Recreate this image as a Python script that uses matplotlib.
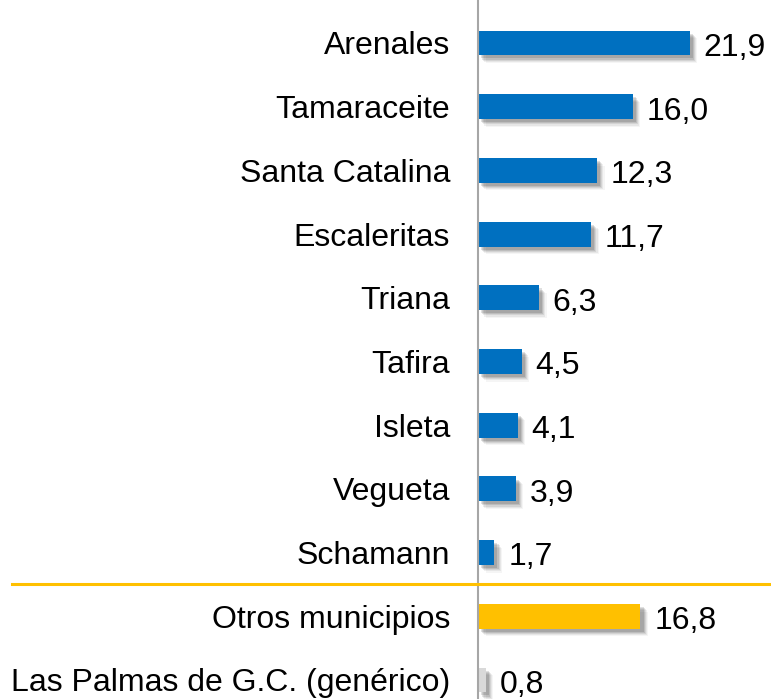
import matplotlib
matplotlib.use("Agg")
import matplotlib.pyplot as plt
import matplotlib.patheffects as pe
import matplotlib.transforms as mtransforms

categories = ["Arenales", "Tamaraceite", "Santa Catalina", "Escaleritas", "Triana",
              "Tafira", "Isleta", "Vegueta", "Schamann", "Otros municipios",
              "Las Palmas de G.C. (genérico)"]
values = [21.9, 16.0, 12.3, 11.7, 6.3, 4.5, 4.1, 3.9, 1.7, 16.8, 0.8]
colors = ["#0070C0"] * 9 + ["#FFC000", "#D9D9D9"]

plt.rcParams['font.family'] = ['Liberation Sans', 'DejaVu Sans']

fig = plt.figure(figsize=(7.71, 6.99), dpi=100)
ax = fig.add_axes([478 / 771, 0, 1 - 478 / 771, 1])

pos = list(range(len(categories)))

# soft shadow made of a few offset layers
shadow = [pe.SimplePatchShadow(offset=(o, -o), shadow_rgbFace='black', alpha=a)
          for o, a in [(5.5, 0.04), (4.6, 0.06), (3.8, 0.08), (3.0, 0.1), (2.2, 0.12)]] + [pe.Normal()]

bars = ax.barh(pos, values, height=0.39, color=colors, zorder=3)
for b in bars:
    b.set_path_effects(shadow)

for p, v in zip(pos, values):
    ax.annotate(f"{v:.1f}".replace(".", ","), xy=(v, p), xytext=(10, -1),
                textcoords="offset points", va="center_baseline", ha="left",
                fontsize=23, color="black")

ax.set_xlim(0, 30.3)
ax.set_ylim((699 - 43) / 63.7, -43 / 63.7)
ax.set_yticks(pos)
ax.set_yticklabels(categories, fontsize=23)
ax.tick_params(axis="y", length=0, pad=20)
ax.set_xticks([])
for s in ["top", "right", "bottom"]:
    ax.spines[s].set_visible(False)
ax.spines["left"].set_color("#A6A6A6")
ax.spines["left"].set_linewidth(1.5)
ax.spines["left"].set_zorder(4)

# separator between neighbourhoods and other groups
tr = mtransforms.blended_transform_factory(fig.transFigure, ax.transData)
ax.plot([12 / 771, 1.0], [8.5, 8.5], color="#FFC000", lw=2.2, transform=tr, clip_on=False, zorder=5)

fig.savefig("out.png", dpi=100)
